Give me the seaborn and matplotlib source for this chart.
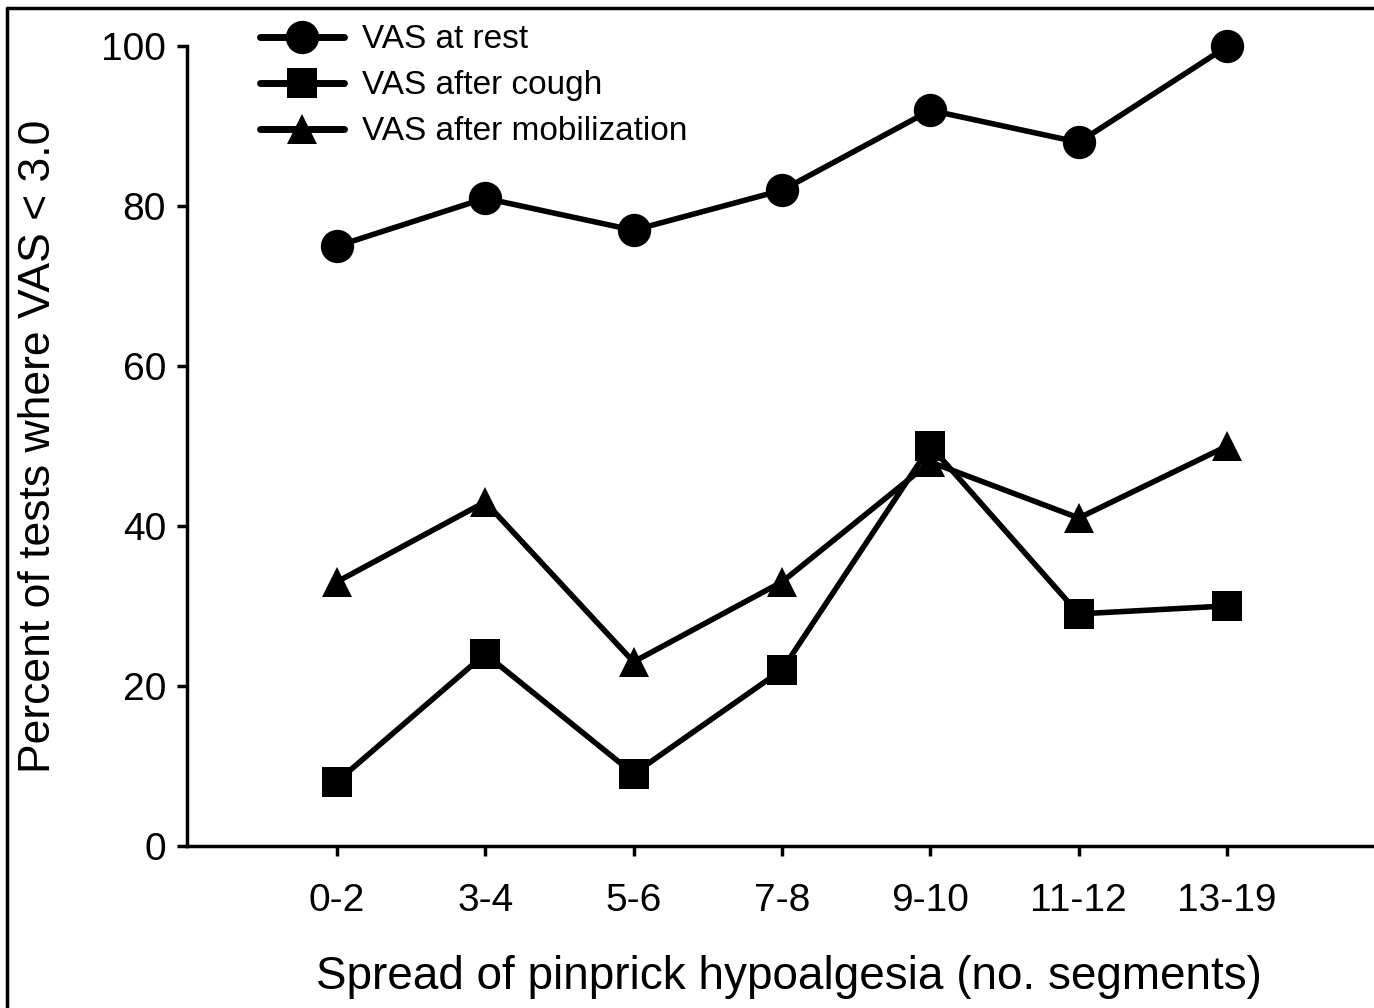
import matplotlib
matplotlib.use('Agg')
import matplotlib.pyplot as plt
import seaborn as sns
import pandas as pd
import numpy as np
from matplotlib.lines import Line2D

segments = ['0-2', '3-4', '5-6', '7-8', '9-10', '11-12', '13-19']
vas_rest = [75, 81, 77, 82, 92, 88, 100]
vas_cough = [8, 24, 9, 22, 50, 29, 30]
vas_mobil = [33, 43, 23, 33, 48, 41, 50]
series_names = ['VAS at rest', 'VAS after cough', 'VAS after mobilization']

sns.set_theme(style='ticks')
plt.rcParams['font.family'] = ['Liberation Sans', 'DejaVu Sans']
plt.rcParams['text.color'] = 'black'
plt.rcParams['axes.labelcolor'] = 'black'

pos = np.arange(len(segments))
df = pd.concat([
    pd.DataFrame({'pos': pos, 'pct': vals, 'series': name})
    for name, vals in zip(series_names, [vas_rest, vas_cough, vas_mobil])
], ignore_index=True)

fig = plt.figure(figsize=(13.74, 10.08), dpi=100)
ax = fig.add_axes([0.136, 0.161, 0.876, 0.793])

markers = {'VAS at rest': 'o', 'VAS after cough': 's', 'VAS after mobilization': '^'}
msizes = {'VAS at rest': 24, 'VAS after cough': 21, 'VAS after mobilization': 22}
for name in series_names:
    sub = df[df['series'] == name]
    sns.lineplot(data=sub, x='pos', y='pct', ax=ax, color='black', linewidth=4,
                 marker=markers[name], markersize=msizes[name], markeredgewidth=0,
                 label=name, clip_on=False)

ax.set_xlim(-1.01, 7.1)
ax.set_ylim(0, 100)
ax.set_xticks(pos)
ax.set_xticklabels(segments)
ax.set_yticks([0, 20, 40, 60, 80, 100])
ax.tick_params(axis='both', direction='out', length=7, width=2.5, colors='black',
               labelsize=28, pad=8)
ax.tick_params(axis='x', pad=20)
for s in ['top', 'right']:
    ax.spines[s].set_visible(False)
for s in ['left', 'bottom']:
    ax.spines[s].set_linewidth(2.5)
    ax.spines[s].set_color('black')

ax.set_xlabel('Spread of pinprick hypoalgesia (no. segments)', fontsize=33, labelpad=26)
ax.set_ylabel('Percent of tests where VAS < 3.0', fontsize=32, labelpad=30)

leg = ax.legend(loc='upper left', bbox_to_anchor=(0.036, 1.065), frameon=False,
                fontsize=24, handlelength=2.5, handletextpad=0.55, labelspacing=0.45,
                markerscale=1.0)
for h in leg.get_lines():
    h.set_linewidth(5)

# outer frame of the original figure
fig.add_artist(Line2D([0.005, 0.005], [0, 0.992], transform=fig.transFigure, color='black', lw=2.5))
fig.add_artist(Line2D([0.005, 1.0], [0.992, 0.992], transform=fig.transFigure, color='black', lw=2.5))

plt.savefig('out.png', dpi=100)
